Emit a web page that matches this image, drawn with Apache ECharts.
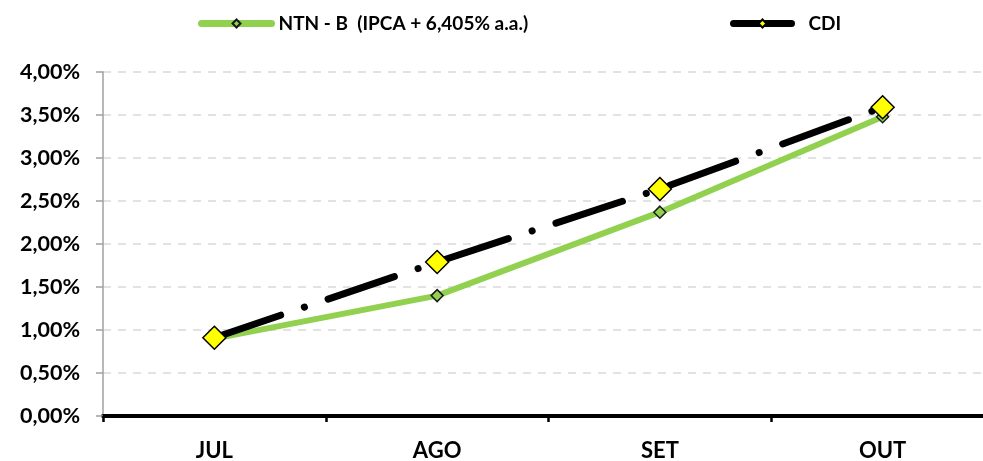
<!DOCTYPE html>
<html><head><meta charset="utf-8">
<script src="https://cdn.jsdelivr.net/npm/echarts@6/dist/echarts.min.js"></script>
<style>html,body{margin:0;padding:0;background:#fff}#c{width:983px;height:461px}</style>
</head><body><div id="c"></div>
<script>
const categories = ['JUL', 'AGO', 'SET', 'OUT'];
const ntnbName = 'NTN - B  (IPCA + 6,405% a.a.)';
const ntnbValues = [0.90, 1.40, 2.37, 3.48];
const cdiName = 'CDI';
const cdiValues = [0.91, 1.79, 2.64, 3.59];
const yTicks = { min: 0, max: 4, interval: 0.5 };

const FONT = 'Lato';
const legendText = { fontFamily: FONT, fontWeight: 'bold', fontSize: 19, color: '#000' };
const chart = echarts.init(document.getElementById('c'));
chart.setOption({
  animation: false,
  backgroundColor: '#fff',
  textStyle: { fontFamily: FONT },
  legend: [
    { data: [ntnbName], left: 193, top: 9, itemWidth: 70, itemHeight: 10,
      lineStyle: { width: 7, cap: 'round', type: 'solid' },
      textStyle: Object.assign({}, legendText, { padding: [0, 0, 0, 2] }) },
    { data: [cdiName], left: 725, top: 9, itemWidth: 58, itemHeight: 10,
      lineStyle: { width: 7, cap: 'round', type: 'solid' },
      textStyle: Object.assign({}, legendText, { padding: [0, 0, 0, 12] }) }
  ],
  grid: { left: 103, width: 891, top: 72, bottom: 45, containLabel: false, outerBoundsMode: 'none' },
  xAxis: {
    type: 'category', data: categories, boundaryGap: true,
    axisLine: { show: true, lineStyle: { color: '#000', width: 4 } },
    axisTick: { show: true, length: 6, lineStyle: { color: '#000', width: 2.5 } },
    axisLabel: { color: '#000', fontWeight: 'bold', fontSize: 22, margin: 24, fontFamily: FONT },
    splitLine: { show: false }
  },
  yAxis: {
    type: 'value', min: yTicks.min, max: yTicks.max, interval: yTicks.interval,
    axisLine: { show: true, lineStyle: { color: '#a0a0a0', width: 1.5 } },
    axisTick: { show: true, length: 7, lineStyle: { color: '#a0a0a0', width: 1.5 } },
    axisLabel: { color: '#000', fontWeight: 'bold', fontSize: 21.5, margin: 23, fontFamily: FONT,
      formatter: v => v.toFixed(2).replace('.', ',') + '%' },
    splitLine: { show: true, lineStyle: { color: '#d9d9d9', width: 1.5, type: [8, 7] } }
  },
  series: [
    { name: ntnbName, type: 'line', data: ntnbValues, z: 2,
      symbol: 'diamond', symbolSize: 12, showSymbol: true,
      lineStyle: { color: '#92d050', width: 6 },
      itemStyle: { color: '#92d050', borderColor: '#1a1a1a', borderWidth: 1.5 } },
    { name: cdiName, type: 'line', data: cdiValues, z: 3,
      symbol: 'diamond', symbolSize: 23, showSymbol: true,
      lineStyle: { color: '#000', width: 7, type: [70, 25, 0.1, 25], cap: 'round' },
      itemStyle: { color: '#ffff00', borderColor: '#000', borderWidth: 1.5 } }
  ]
});
</script></body></html>
